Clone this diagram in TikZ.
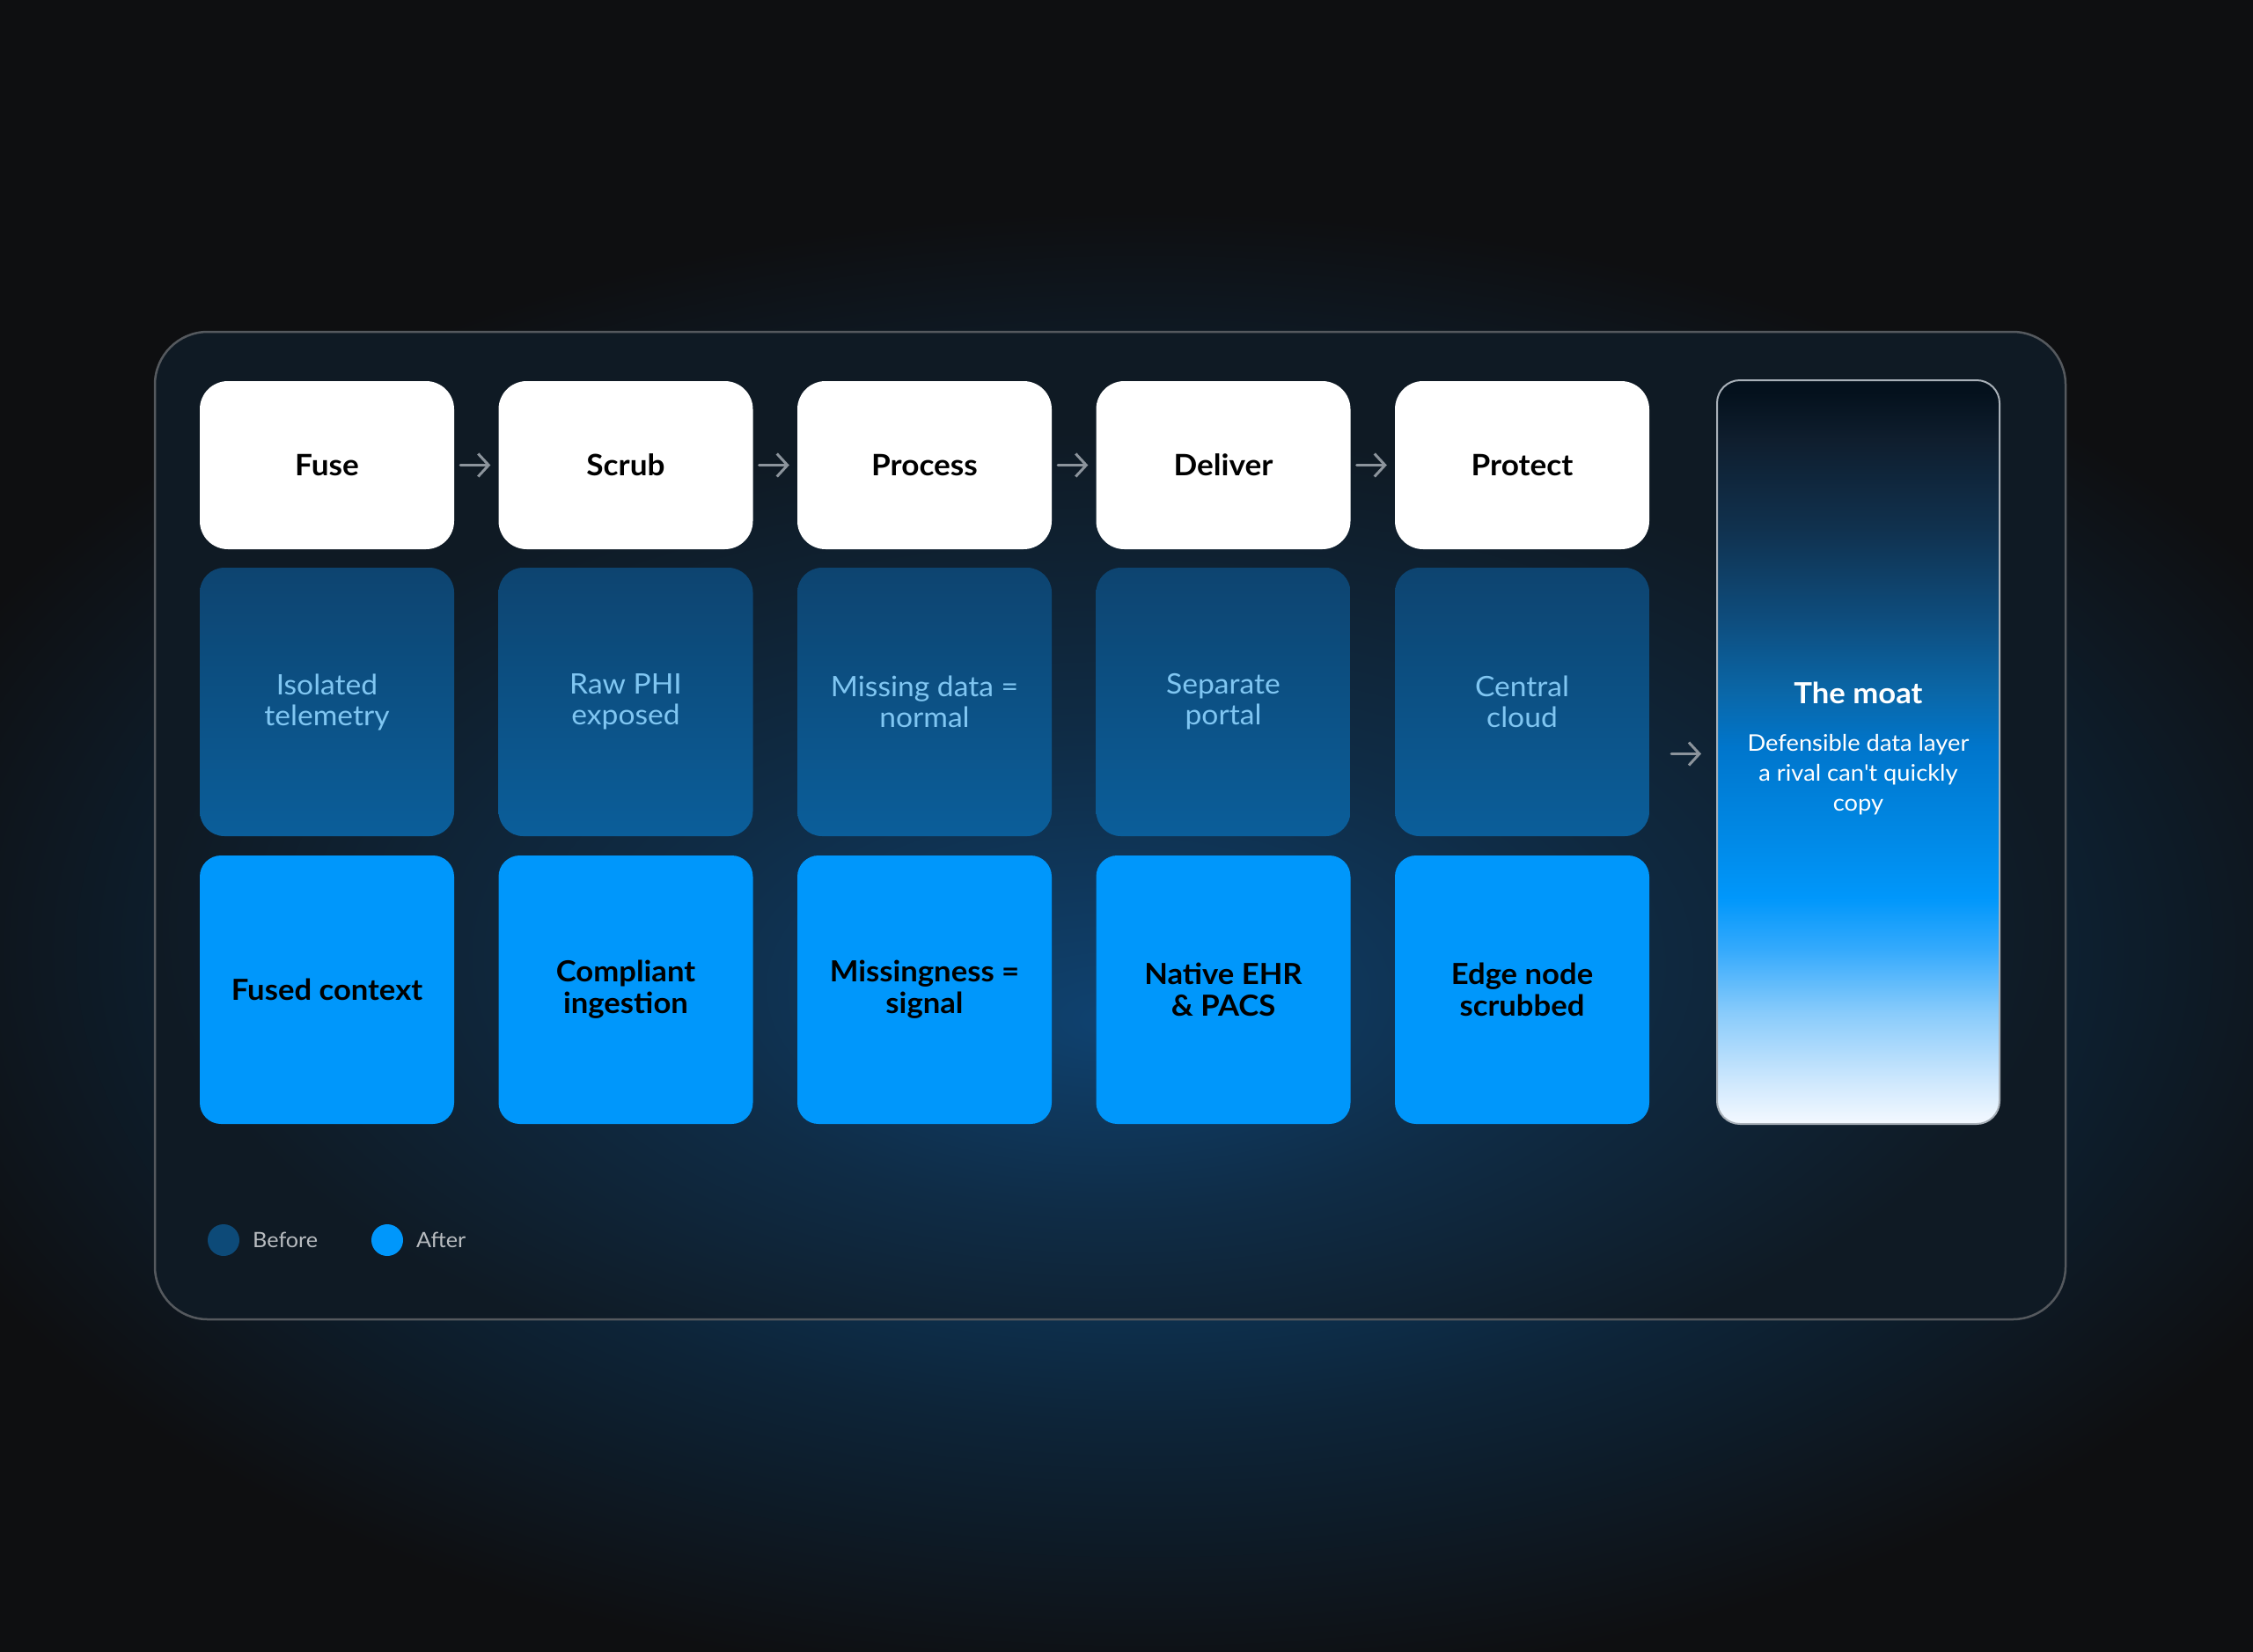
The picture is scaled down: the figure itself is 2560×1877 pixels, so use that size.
\documentclass[tikz,border=0pt]{standalone}
\usepackage{fontspec}
\setmainfont{Lato}[FakeStretch=1.05]
\usetikzlibrary{arrows.meta}
\definecolor{bg}{HTML}{0E0F11}
\definecolor{glowin}{HTML}{0C3A60}
\definecolor{glowmid}{HTML}{0D2438}
\definecolor{panelin}{HTML}{0F4270}
\definecolor{panelmid}{HTML}{0F2C46}
\definecolor{panelout}{HTML}{0F1A24}
\definecolor{pborder}{HTML}{55595E}
\definecolor{midtop}{HTML}{0D4470}
\definecolor{midbot}{HTML}{0B5E9A}
\definecolor{bright}{HTML}{0097FB}
\definecolor{midtext}{HTML}{80C6F2}
\definecolor{arrowgray}{HTML}{8C949C}
\definecolor{legtextc}{HTML}{B8BCC0}
\definecolor{beforec}{HTML}{0D4A78}
\definecolor{moatborder}{HTML}{A8B0B8}
\definecolor{m1}{HTML}{F4F9FF}
\definecolor{m2}{HTML}{CFE8FD}
\definecolor{m3}{HTML}{88CBFB}
\definecolor{m4}{HTML}{35AAFC}
\definecolor{m5}{HTML}{0097FB}
\definecolor{m6}{HTML}{0089E6}
\definecolor{m7}{HTML}{0076CC}
\definecolor{m8}{HTML}{0A67A8}
\definecolor{m9}{HTML}{0E4C7C}
\definecolor{m10}{HTML}{10314E}
\definecolor{m11}{HTML}{0F1E2E}
\definecolor{m12}{HTML}{04111D}
\pgfdeclareradialshading{glowshade}{\pgfpoint{0bp}{0bp}}{color(0bp)=(glowin); color(9bp)=(glowin); color(16bp)=(glowmid); color(25bp)=(bg); color(50bp)=(bg)}
\pgfdeclareradialshading{panelshade}{\pgfpoint{0bp}{-10bp}}{color(0bp)=(panelin); color(12bp)=(panelmid); color(25bp)=(panelout); color(50bp)=(panelout)}
\pgfdeclareverticalshading{midshade}{100bp}{color(0bp)=(midbot); color(25bp)=(midbot); color(75bp)=(midtop); color(100bp)=(midtop)}
\pgfdeclareverticalshading{moatshade}{100bp}{color(0bp)=(m1); color(25bp)=(m1); color(27.8bp)=(m2); color(32.5bp)=(m3); color(36.7bp)=(m4); color(40.2bp)=(m5); color(44.3bp)=(m6); color(50.3bp)=(m7); color(54bp)=(m8); color(59.1bp)=(m9); color(65.1bp)=(m10); color(71bp)=(m11); color(74.2bp)=(m12); color(75bp)=(m12); color(100bp)=(m12)}
\begin{document}
\begin{tikzpicture}[x=1pt,y=-1pt,
  card/.style={rectangle, minimum width=289pt, inner sep=0pt, align=center},
  topbox/.style={card, fill=white, minimum height=191pt, rounded corners=32pt,
    font=\fontsize{33.5pt}{37pt}\selectfont\bfseries, text=black},
  midbox/.style={card, shading=midshade, minimum height=305pt, rounded corners=28pt,
    font=\fontsize{32pt}{35pt}\selectfont, text=midtext},
  botbox/.style={card, fill=bright, minimum height=305pt, rounded corners=24pt,
    font=\fontsize{33pt}{36pt}\selectfont\bfseries, text=black},
  arr/.style={draw=arrowgray, line width=3pt, line cap=round,
    -{Straight Barb[length=12pt,width=26pt,line width=3pt]}},
  dot/.style={circle, minimum size=36pt, inner sep=0pt},
  legtext/.style={anchor=west, inner sep=0pt, text=legtextc, font=\fontsize{24pt}{28pt}\selectfont}
]
\useasboundingbox (0,0) rectangle (2560,1877);
\fill[bg] (0,0) rectangle (2560,1877);
\shade[shading=glowshade] (1300,1080) ellipse [x radius=1480, y radius=840];
\shadedraw[shading=panelshade, draw=pborder, line width=2.5pt, rounded corners=60pt] (176,377) rectangle (2347,1499);

% top row
\node[topbox] (fuse) at (371.5,528.5) {Fuse};
\node[topbox] (scrub) at (711,528.5) {Scrub};
\node[topbox] (process) at (1050.5,528.5) {Process};
\node[topbox] (deliver) at (1390,528.5) {Deliver};
\node[topbox] (protect) at (1729.5,528.5) {Protect};

% before row
\node[midbox] (fuse-b) at (371.5,797.5) {Isolated\\telemetry};
\node[midbox] (scrub-b) at (711,797.5) {Raw PHI\\exposed};
\node[midbox] (process-b) at (1050.5,797.5) {Missing data =\\normal};
\node[midbox] (deliver-b) at (1390,797.5) {Separate\\portal};
\node[midbox] (protect-b) at (1729.5,797.5) {Central\\cloud};

% after row
\node[botbox] (fuse-a) at (371.5,1124.5) {Fused context};
\node[botbox] (scrub-a) at (711,1124.5) {Compliant\\ingestion};
\node[botbox] (process-a) at (1050.5,1124.5) {Missingness =\\signal};
\node[botbox] (deliver-a) at (1390,1124.5) {Native EHR\\\& PACS};
\node[botbox] (protect-a) at (1729.5,1124.5) {Edge node\\scrubbed};

% moat
\node[rectangle, minimum width=321pt, minimum height=845pt, rounded corners=26pt,
  shading=moatshade, draw=moatborder, line width=2pt] (moat) at (2111.5,854.5) {};
\node[text=white, font=\fontsize{33pt}{38pt}\selectfont\bfseries, inner sep=0pt] (moattitle) at (2111.5,787) {The moat};
\node[text=white, font=\fontsize{26pt}{34pt}\selectfont, align=center, inner sep=0pt] (moatsub) at (2111.5,880) {Defensible data layer\\a rival can\textquotesingle t quickly\\copy};

% arrows
\draw[arr] ([xshift=7pt]fuse.east) -- ([xshift=-9pt]scrub.west);
\draw[arr] ([xshift=7pt]scrub.east) -- ([xshift=-9pt]process.west);
\draw[arr] ([xshift=7pt]process.east) -- ([xshift=-9pt]deliver.west);
\draw[arr] ([xshift=7pt]deliver.east) -- ([xshift=-9pt]protect.west);
\coordinate (moatin) at ([xshift=-51pt,yshift=-2pt]moat.west);
\draw[arr] (moatin) -- ([xshift=-17pt,yshift=-2pt]moat.west);

% legend
\node[dot, fill=beforec] (bdot) at (254,1409) {};
\node[legtext] (btext) at (287,1409) {Before};
\node[dot, fill=bright] (adot) at (440,1409) {};
\node[legtext] (atext) at (473,1409) {After};
\end{tikzpicture}
\end{document}
